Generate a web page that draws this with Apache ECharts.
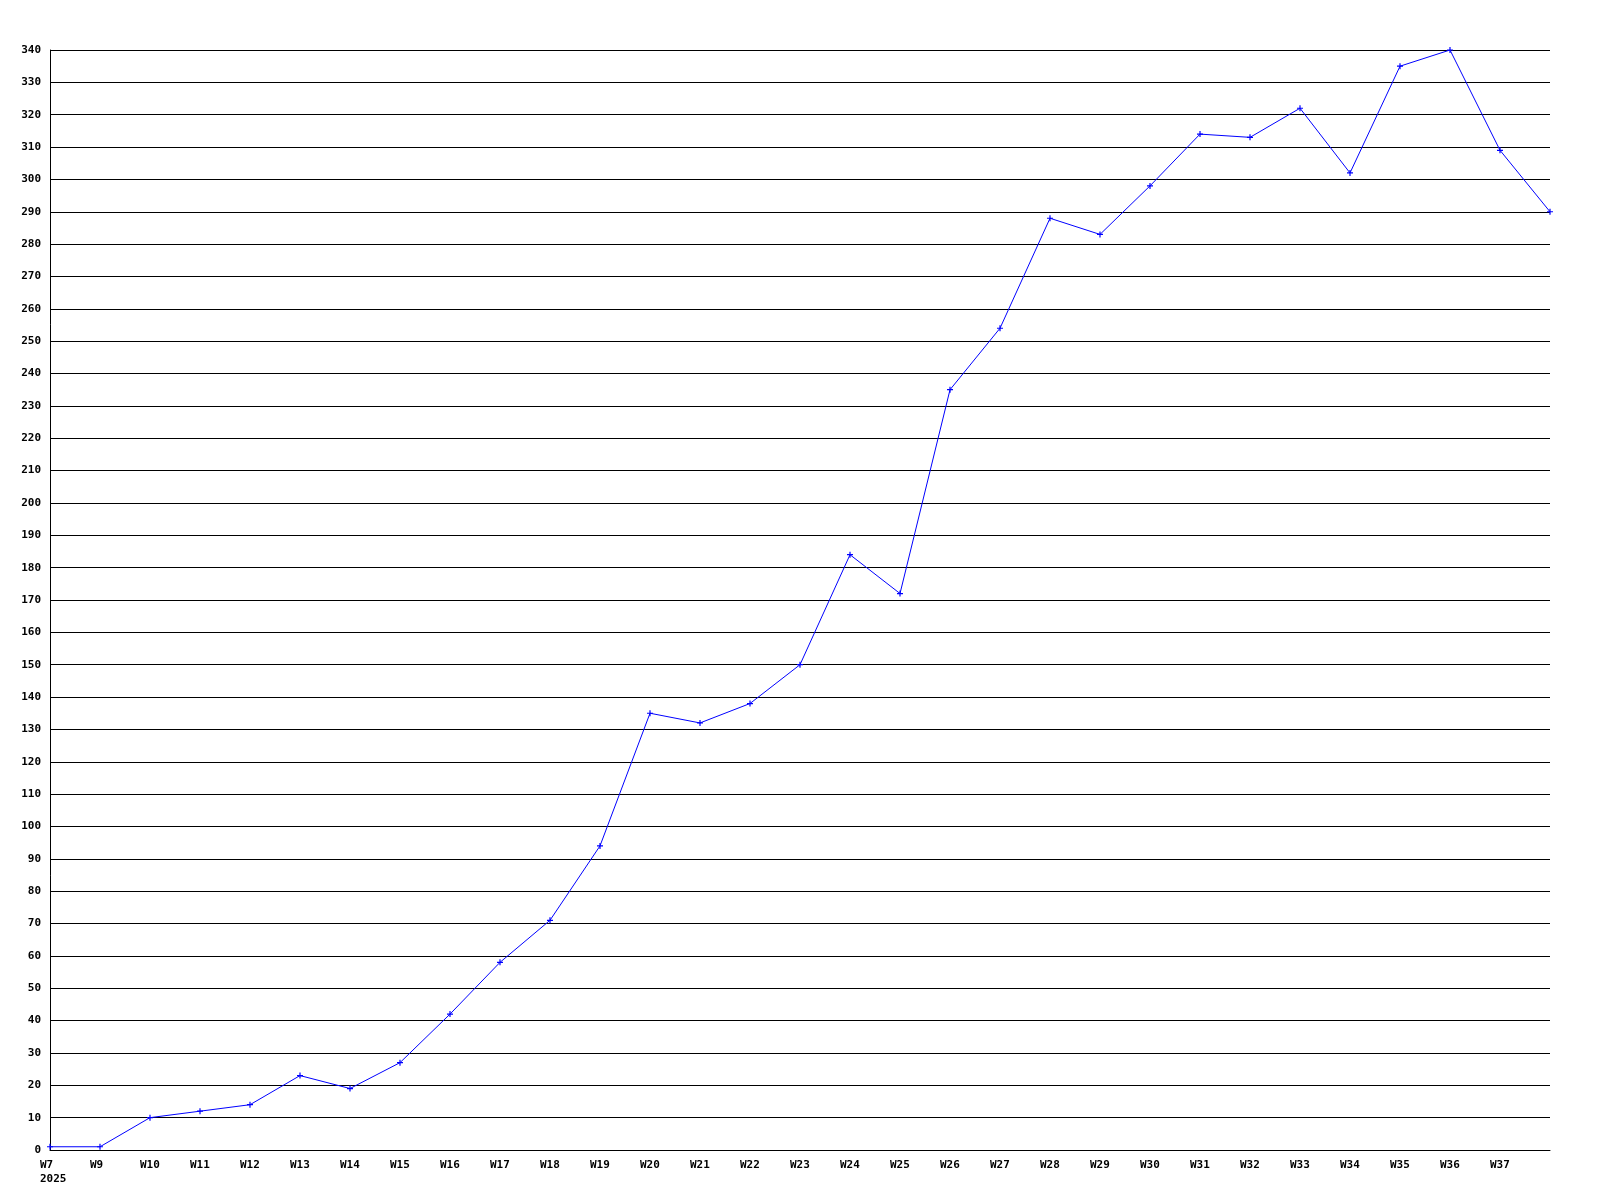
<!DOCTYPE html>
<html>
<head>
<meta charset="utf-8">
<script src="https://cdn.jsdelivr.net/npm/echarts@6/dist/echarts.min.js"></script>
<style>
  html, body { margin: 0; padding: 0; background: #fff; }
  #chart { width: 1600px; height: 1200px; }
</style>
</head>
<body>
<div id="chart"></div>
<script>
// weeks (last point has no label)
var weeks = ['W7\n2025', 'W9', 'W10', 'W11', 'W12', 'W13', 'W14', 'W15', 'W16', 'W17',
  'W18', 'W19', 'W20', 'W21', 'W22', 'W23', 'W24', 'W25', 'W26', 'W27',
  'W28', 'W29', 'W30', 'W31', 'W32', 'W33', 'W34', 'W35', 'W36', 'W37', ''];
var counts = [1, 1, 10, 12, 14, 23, 19, 27, 42, 58,
  71, 94, 135, 132, 138, 150, 184, 172, 235, 254,
  288, 283, 298, 314, 313, 322, 302, 335, 340, 309, 290];

var labelFont = {
  fontFamily: 'DejaVu Sans Mono',
  fontWeight: 'bold',
  fontSize: 11,
  color: '#000'
};

var chart = echarts.init(document.getElementById('chart'));
var option = {
  animation: false,
  backgroundColor: '#fff',
  grid: { left: 50, right: 50, top: 50, bottom: 50 },
  xAxis: {
    type: 'category',
    data: weeks,
    boundaryGap: false,
    axisLine: { show: true, lineStyle: { color: '#000', width: 1 } },
    axisTick: { show: false },
    splitLine: { show: false },
    axisLabel: Object.assign({
      interval: 0,
      margin: 8,
      align: 'left',
      padding: [0, 0, 0, -10],
      lineHeight: 14
    }, labelFont)
  },
  yAxis: {
    type: 'value',
    min: 0,
    max: 340,
    interval: 10,
    axisLine: { show: true, lineStyle: { color: '#000', width: 1 } },
    axisTick: { show: false },
    splitLine: { show: true, lineStyle: { color: '#000', width: 1 } },
    axisLabel: Object.assign({ margin: 9 }, labelFont)
  },
  series: [{
    type: 'line',
    data: counts,
    symbol: 'path://M2,0L3,0L3,2L5,2L5,3L3,3L3,5L2,5L2,3L0,3L0,2L2,2Z',
    symbolSize: 6,
    showSymbol: true,
    lineStyle: { color: '#0000ff', width: 1 },
    itemStyle: { color: '#0000ff' }
  }]
};
chart.setOption(option);
</script>
</body>
</html>
